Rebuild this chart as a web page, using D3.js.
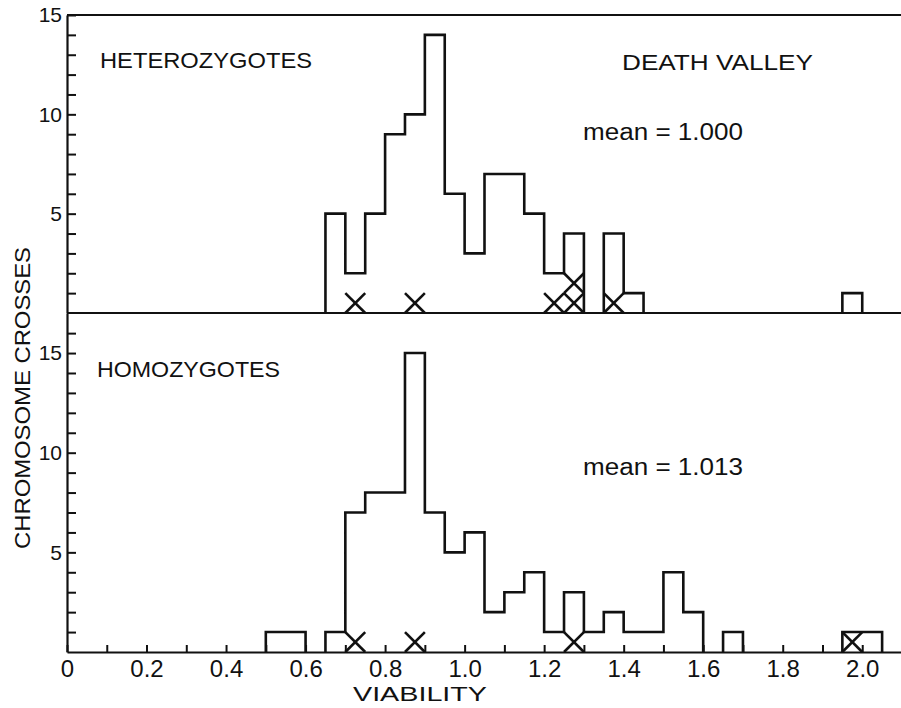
<!DOCTYPE html>
<html>
<head>
<meta charset="utf-8">
<script src="https://cdn.jsdelivr.net/npm/d3@7"></script>
<style>
  html, body { margin: 0; padding: 0; background: #fff; }
  svg { display: block; }
  text { font-family: "Liberation Sans", Arial, sans-serif; fill: #111; }
</style>
</head>
<body>
<svg id="chart" width="901" height="708"></svg>
<script>
// ---- data (bins of width 0.05, starting at 0.50) ----
const binWidth = 0.05;
const binStarts = d3.range(0, 31).map(i => +(0.50 + i * 0.05).toFixed(2));
const heteroCounts = [0,0,0,5,2,5,9,10,14,6,3,7,7,5,2,4,0,4,1,0,0,0,0,0,0,0,0,0,0,1,0];
const homoCounts   = [1,1,0,1,7,8,8,15,7,5,6,2,3,4,1,3,1,2,1,1,4,2,0,1,0,0,0,0,0,1,1];
// lethal (X) marks, bin centres
const heteroMarks = [0.725, 0.875, 1.225, 1.275, 1.275, 1.375];
const homoMarks   = [0.725, 0.875, 1.275, 1.975];
const xTickValues = d3.range(0, 21).map(i => i / 10);
const yTicksTop = d3.range(1, 16);
const yTicksBottom = d3.range(1, 17);
const labels = {
  top: "HETEROZYGOTES", bottom: "HOMOZYGOTES", site: "DEATH VALLEY",
  meanTop: "mean = 1.000", meanBottom: "mean = 1.013",
  xTitle: "VIABILITY", yTitle: "CHROMOSOME  CROSSES"
};

const svg = d3.select("#chart");
const x = d3.scaleLinear().domain([0, 2.1]).range([67, 902]);
const yTop = d3.scaleLinear().domain([0, 15]).range([313, 15]);
const yBot = d3.scaleLinear().domain([0, 17]).range([652, 313.2]);

// axes
const fmtY = d => (d % 5 === 0 ? String(d) : "");
const gYTop = svg.append("g").attr("transform", `translate(${x(0)},0)`)
  .call(d3.axisLeft(yTop).tickValues(yTicksTop).tickFormat(fmtY).tickSizeInner(-9).tickSizeOuter(0).tickPadding(5));
const gYBot = svg.append("g").attr("transform", `translate(${x(0)},0)`)
  .call(d3.axisLeft(yBot).tickValues(yTicksBottom).tickFormat(fmtY).tickSizeInner(-9).tickSizeOuter(0).tickPadding(5));
const gX = svg.append("g").attr("transform", `translate(0,${yBot(0)})`)
  .call(d3.axisBottom(x).tickValues(xTickValues)
    .tickFormat(d => (Math.round(d * 10) % 2 === 0 ? (d === 0 ? "0" : d3.format(".1f")(d)) : ""))
    .tickSizeInner(-7).tickSizeOuter(0).tickPadding(8));

[gYTop, gYBot, gX].forEach(g => {
  g.selectAll("path.domain").attr("stroke", "#111").attr("stroke-width", 2.2);
  g.selectAll(".tick line").attr("stroke", "#111").attr("stroke-width", 2);
  g.selectAll("text").style("font-family", '"Liberation Sans", Arial, sans-serif').attr("fill", "#111");
});
gYTop.selectAll("text").attr("font-size", 21);
gYBot.selectAll("text").attr("font-size", 21);
gX.selectAll("text").attr("font-size", 24);

// top border and separating baseline of top panel
svg.append("line").attr("x1", x(0)).attr("x2", 901).attr("y1", yTop(15)).attr("y2", yTop(15))
  .attr("stroke", "#111").attr("stroke-width", 2.2);
svg.append("line").attr("x1", x(0)).attr("x2", 901).attr("y1", yTop(0)).attr("y2", yTop(0))
  .attr("stroke", "#111").attr("stroke-width", 2.2);

// histogram outline as step path for each contiguous run
function runs(counts) {
  const out = [];
  let cur = null;
  counts.forEach((c, i) => {
    if (c > 0) {
      if (!cur) { cur = []; out.push(cur); }
      cur.push({ start: binStarts[i], count: c });
    } else cur = null;
  });
  return out;
}
function drawHist(counts, y) {
  const line = d3.line().x(d => x(d[0])).y(d => y(d[1])).curve(d3.curveStepAfter);
  runs(counts).forEach(run => {
    const pts = [[run[0].start, 0]];
    run.forEach(b => pts.push([b.start, b.count]));
    pts.push([run[run.length - 1].start + binWidth, 0]);
    svg.append("path").attr("d", line(pts)).attr("fill", "none")
      .attr("stroke", "#111").attr("stroke-width", 2.6).attr("stroke-linejoin", "miter");
  });
}
drawHist(heteroCounts, yTop);
drawHist(homoCounts, yBot);

// X marks
function drawMarks(marks, y) {
  const seen = {};
  marks.forEach(m => {
    const k = m.toFixed(3);
    const row = seen[k] || 0;
    seen[k] = row + 1;
    const x0 = x(m - binWidth / 2), x1 = x(m + binWidth / 2);
    const y0 = y(row), y1 = y(row + 1);
    const g = svg.append("g").attr("stroke", "#111").attr("stroke-width", 2.6);
    g.append("line").attr("x1", x0).attr("y1", y0).attr("x2", x1).attr("y2", y1);
    g.append("line").attr("x1", x0).attr("y1", y1).attr("x2", x1).attr("y2", y0);
  });
}
drawMarks(heteroMarks, yTop);
drawMarks(homoMarks, yBot);

// labels
function label(txt, xp, yp, size, len, anchor) {
  const t = svg.append("text").attr("x", xp).attr("y", yp).attr("font-size", size).text(txt);
  if (len) t.attr("textLength", len).attr("lengthAdjust", "spacingAndGlyphs");
  if (anchor) t.attr("text-anchor", anchor);
  return t;
}
label(labels.top, 100, 68, 22, 212);
label(labels.site, 622, 70, 22, 191);
label(labels.meanTop, 583, 140, 23, 160);
label(labels.bottom, 97, 377, 22, 183);
label(labels.meanBottom, 583, 475, 23, 160);
label(labels.xTitle, 353, 701, 21, 134);
svg.append("text").attr("transform", "translate(30,398) rotate(-90)")
  .attr("text-anchor", "middle").attr("font-size", 22)
  .attr("textLength", 302).attr("lengthAdjust", "spacingAndGlyphs")
  .text(labels.yTitle);
</script>
</body>
</html>
